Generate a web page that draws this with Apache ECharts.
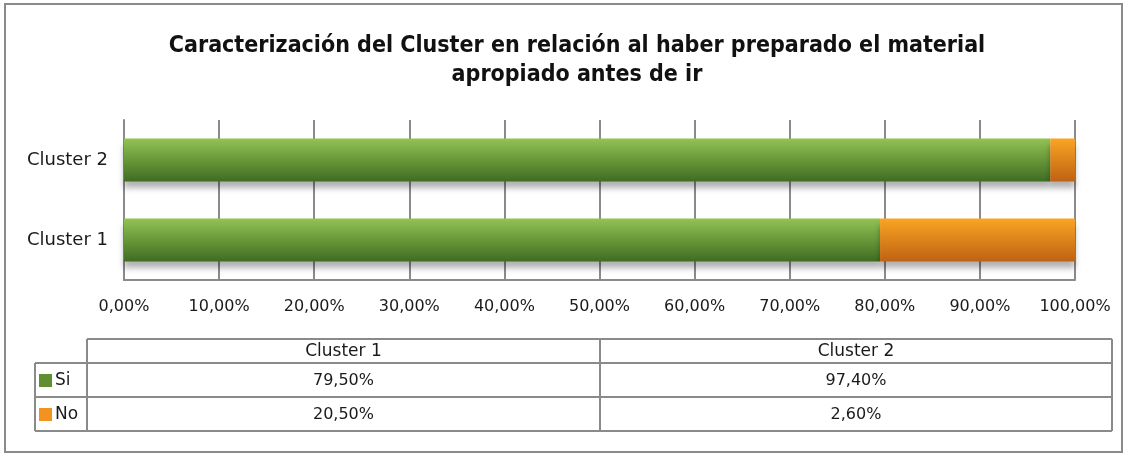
<!DOCTYPE html>
<html>
<head>
<meta charset="utf-8">
<script src="https://cdn.jsdelivr.net/npm/echarts@6/dist/echarts.min.js"></script>
<style>
  html, body { margin: 0; padding: 0; background: #fff; }
  #main { width: 1130px; height: 457px; }
</style>
</head>
<body>
<div id="main"></div>
<script>
var clusters = ['Cluster 1', 'Cluster 2'];
var siValues = [79.5, 97.4];
var noValues = [20.5, 2.6];
var seriesNames = ['Si', 'No'];

var myChart = echarts.init(document.getElementById('main'));

var FONT = "'DejaVu Sans', sans-serif";
var TITLE_FONT = "'DejaVu Sans Condensed', 'Liberation Sans Narrow', 'DejaVu Sans', sans-serif";

function pct(v) {
    return v.toFixed(2).replace('.', ',') + '%';
}

// tabla de datos bajo el gráfico
var tbl = { left: 35, colX: 87, mid: 600, right: 1112, rows: [339, 363, 397, 431] };
var lineStyle = { stroke: '#8a8a8a', lineWidth: 2 };
var graphics = [];
function hline(x1, x2, y) {
    graphics.push({ type: 'line', shape: { x1: x1, y1: y, x2: x2, y2: y }, style: lineStyle, silent: true });
}
function vline(x, y1, y2) {
    graphics.push({ type: 'line', shape: { x1: x, y1: y1, x2: x, y2: y2 }, style: lineStyle, silent: true });
}
function cell(text, x, y, size) {
    graphics.push({ type: 'text', x: x, y: y, silent: true,
        style: { text: text, font: size + 'px ' + FONT, fill: '#1a1a1a', textAlign: 'center', textVerticalAlign: 'middle' } });
}

// borde exterior
graphics.push({ type: 'rect', shape: { x: 5, y: 4, width: 1117, height: 448 },
    style: { fill: 'none', stroke: '#8a8a8a', lineWidth: 2 }, silent: true });

var r = tbl.rows;
hline(tbl.colX, tbl.right, r[0]);
hline(tbl.left, tbl.right, r[1]);
hline(tbl.left, tbl.right, r[2]);
hline(tbl.left, tbl.right, r[3]);
vline(tbl.left, r[1], r[3]);
vline(tbl.colX, r[0], r[3]);
vline(tbl.mid, r[0], r[3]);
vline(tbl.right, r[0], r[3]);

var colCenters = [(tbl.colX + tbl.mid) / 2, (tbl.mid + tbl.right) / 2];
clusters.forEach(function (c, i) {
    cell(c, colCenters[i], (r[0] + r[1]) / 2 + 1, 17);
    cell(pct(siValues[i]), colCenters[i], (r[1] + r[2]) / 2 + 1, 16);
    cell(pct(noValues[i]), colCenters[i], (r[2] + r[3]) / 2 + 1, 16);
});

var swatchColors = ['#5f8f30', '#f29220'];
seriesNames.forEach(function (name, i) {
    var yc = (r[i + 1] + r[i + 2]) / 2;
    graphics.push({ type: 'rect', shape: { x: 39, y: yc - 6, width: 13, height: 13 },
        style: { fill: swatchColors[i] }, silent: true });
    graphics.push({ type: 'text', x: 55, y: yc + 1, silent: true,
        style: { text: name, font: '17px ' + FONT, fill: '#1a1a1a', textVerticalAlign: 'middle' } });
});

function grad(top, bottom) {
    return new echarts.graphic.LinearGradient(0, 0, 0, 1, [
        { offset: 0, color: top },
        { offset: 1, color: bottom }
    ]);
}

var option = {
    backgroundColor: '#fff',
    animation: false,
    title: {
        text: 'Caracterización del Cluster en relación al haber preparado el material\napropiado antes de ir',
        left: 572,
        top: 27,
        textAlign: 'center',
        textStyle: { fontFamily: TITLE_FONT, fontWeight: 'bold', fontSize: 23, lineHeight: 29, color: '#111' }
    },
    grid: { left: 124, right: 55, top: 120, bottom: 177 },
    xAxis: {
        type: 'value',
        min: 0,
        max: 100,
        interval: 10,
        axisLine: { show: true, lineStyle: { color: '#8a8a8a', width: 2 } },
        axisTick: { show: false },
        splitLine: { show: true, lineStyle: { color: '#8a8a8a', width: 2 } },
        axisLabel: {
            margin: 19,
            fontFamily: FONT,
            fontSize: 16,
            color: '#1a1a1a',
            formatter: function (v) { return pct(v); }
        }
    },
    yAxis: {
        type: 'category',
        data: clusters,
        axisLine: { show: true, lineStyle: { color: '#8a8a8a', width: 2 } },
        axisTick: { show: false },
        axisLabel: { margin: 16, fontFamily: FONT, fontSize: 18, color: '#1a1a1a' }
    },
    series: [
        {
            name: seriesNames[0],
            type: 'bar',
            stack: 'total',
            barWidth: 43,
            data: siValues,
            itemStyle: {
                color: grad('#92c353', '#3f6c22'),
                shadowColor: 'rgba(0,0,0,0.3)',
                shadowBlur: 6,
                shadowOffsetY: 6
            }
        },
        {
            name: seriesNames[1],
            type: 'bar',
            stack: 'total',
            barWidth: 43,
            data: noValues,
            itemStyle: {
                color: grad('#f9a524', '#bf6212'),
                shadowColor: 'rgba(0,0,0,0.3)',
                shadowBlur: 6,
                shadowOffsetY: 6
            }
        }
    ],
    graphic: graphics
};

myChart.setOption(option);
window.onresize = myChart.resize;
</script>
</body>
</html>
